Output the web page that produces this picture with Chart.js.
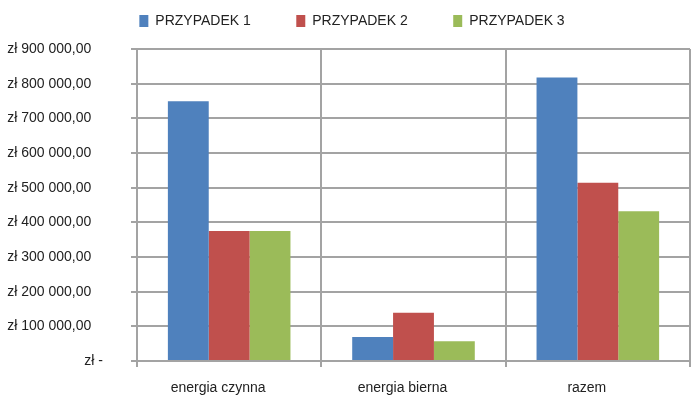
<!DOCTYPE html>
<html>
<head>
<meta charset="utf-8">
<script src="https://cdn.jsdelivr.net/npm/chart.js@4/dist/chart.umd.min.js"></script>
<style>
  html, body { margin: 0; padding: 0; background: #ffffff; }
  #wrap { width: 700px; height: 403px; position: relative; }
</style>
</head>
<body>
<div id="wrap"><canvas id="myChart"></canvas></div>
<script>
// dane
const categories = ['energia czynna', 'energia bierna', 'razem'];
const seriesNames = ['PRZYPADEK 1', 'PRZYPADEK 2', 'PRZYPADEK 3'];
const przypadek1 = [749000, 69000, 818000];
const przypadek2 = [375000, 139000, 514000];
const przypadek3 = [375000, 57000, 432000];
const yTickValues = [0, 100000, 200000, 300000, 400000, 500000, 600000, 700000, 800000, 900000];
const yTickLabels = ['zł -', 'zł 100 000,00', 'zł 200 000,00', 'zł 300 000,00', 'zł 400 000,00',
                     'zł 500 000,00', 'zł 600 000,00', 'zł 700 000,00', 'zł 800 000,00', 'zł 900 000,00'];

const colors = ['#4f81bd', '#c0504d', '#9bbb59'];
const gridColor = '#a3a3a3';
const font = { family: '"Liberation Sans", Arial, sans-serif', size: 14 };

// legenda: duzy odstep miedzy pozycjami, wysokosc i polozenie ustawione recznie
const legendSpacing = {
    id: 'legendSpacing',
    afterInit: (chart) => {
        const legend = chart.legend;
        const fit = legend.fit;
        legend.fit = function () {
            fit.call(this);
            this.height = 49;
        };
    },
    afterLayout: (chart) => {
        chart.legend.left = 14;
        chart.legend.top = -31.5;
    }
};

const ctx = document.getElementById('myChart').getContext('2d');
new Chart(ctx, {
    type: 'bar',
    data: {
        labels: categories,
        datasets: [
            { label: seriesNames[0], data: przypadek1, backgroundColor: colors[0] },
            { label: seriesNames[1], data: przypadek2, backgroundColor: colors[1] },
            { label: seriesNames[2], data: przypadek3, backgroundColor: colors[2] }
        ]
    },
    options: {
        responsive: true,
        maintainAspectRatio: false,
        animation: false,
        layout: { padding: { top: 0, left: 0, right: 10, bottom: 0 } },
        datasets: {
            bar: { barPercentage: 1, categoryPercentage: 0.665, borderWidth: 0 }
        },
        scales: {
            x: {
                afterFit: (scale) => { scale.height = 42; },
                grid: { color: gridColor, lineWidth: 2, offset: true, tickLength: 6 },
                border: { color: gridColor, width: 2 },
                ticks: { color: '#222', font: font, padding: 13, labelOffset: -11 }
            },
            y: {
                min: 0,
                max: 900000,
                afterFit: (scale) => { scale.width = 137; },
                afterBuildTicks: (scale) => {
                    scale.ticks = yTickValues.map(v => ({ value: v }));
                },
                grid: { color: gridColor, lineWidth: 2, tickLength: 6 },
                border: { color: gridColor, width: 2 },
                ticks: {
                    color: '#222',
                    font: font,
                    padding: 28,
                    callback: function (value) {
                        const i = yTickValues.indexOf(value);
                        const label = yTickLabels[i];
                        // liczby koncza sie nieco wczesniej niz "zł -"
                        return value === 0 ? label : label + '   ';
                    }
                }
            }
        },
        plugins: {
            legend: {
                position: 'top',
                labels: {
                    color: '#222',
                    font: font,
                    boxWidth: 9,
                    boxHeight: 12,
                    padding: 45.5
                }
            },
            tooltip: { enabled: false }
        }
    },
    plugins: [legendSpacing]
});
</script>
</body>
</html>
